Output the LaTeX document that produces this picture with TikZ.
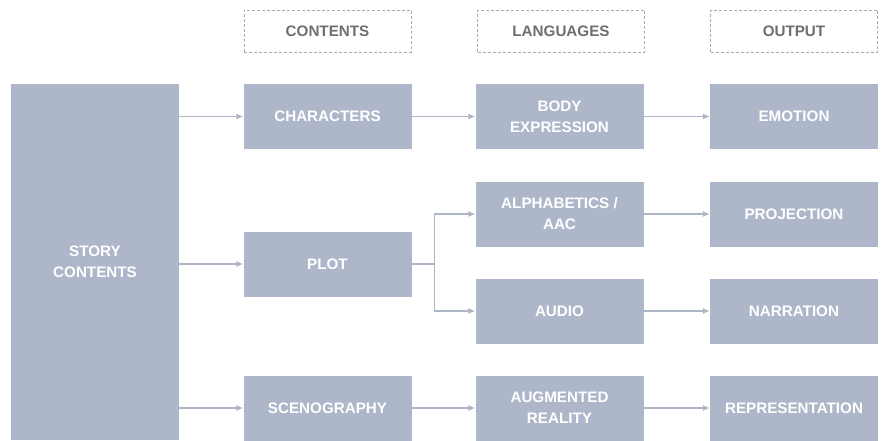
\documentclass[tikz,border=0pt]{standalone}
\usepackage{fontspec}
\setmainfont{Liberation Sans}
\usetikzlibrary{arrows.meta}
\definecolor{boxfill}{HTML}{ADB7C9}
\definecolor{linecol}{HTML}{AEB6C6}
\definecolor{headtext}{HTML}{6E6E6E}
\definecolor{headline}{HTML}{ABABAB}
\begin{document}
\begin{tikzpicture}[
        x=1pt,y=-1pt,
        box/.style={fill=boxfill,text=white,font=\fontsize{15.2}{21}\selectfont\bfseries,
            align=center,minimum width=168pt,minimum height=65pt,inner sep=0pt},
        head/.style={draw=headline,dashed,dash pattern=on 3pt off 2pt,line width=0.9pt,text=headtext,
            font=\fontsize{15.2}{21}\selectfont\bfseries,minimum width=167pt,minimum height=42pt,inner sep=0pt},
        conn/.style={draw=linecol,line width=1.1pt,-{Latex[length=7pt,width=6pt]}},
        line join=round
    ]
    \useasboundingbox (0,0) rectangle (885,441);
    \node[head] (hcont) at (327.5,31) {CONTENTS};
    \node[head] (hlang) at (561,31) {LANGUAGES};
    \node[head] (hout) at (794,31) {OUTPUT};

    \node[box,minimum height=356pt] (story) at (95,262) {STORY\\CONTENTS};

    \node[box] (chars) at (327.5,116.5) {CHARACTERS};
    \node[box] (plot) at (327.5,264) {PLOT};
    \node[box] (sceno) at (327.5,408) {SCENOGRAPHY};

    \node[box] (body) at (559.5,116.5) {BODY\\EXPRESSION};
    \node[box] (alpha) at (559.5,214) {ALPHABETICS /\\AAC};
    \node[box] (audio) at (559.5,311) {AUDIO};
    \node[box] (augm) at (559.5,408) {AUGMENTED\\REALITY};

    \node[box] (emot) at (794,116.5) {EMOTION};
    \node[box] (proj) at (794,214) {PROJECTION};
    \node[box] (narr) at (794,311) {NARRATION};
    \node[box] (repr) at (794,408) {REPRESENTATION};

    \draw[conn] (story.east |- chars) -- (chars);
    \draw[conn] (story.east |- plot) -- (plot);
    \draw[conn] (story.east |- sceno) -- (sceno);
    \draw[conn] (chars) -- (body);
    \draw[conn] (plot.east) -- ++(23,0) |- (alpha.west);
    \draw[conn] (plot.east) -- ++(23,0) |- (audio.west);
    \draw[conn] (sceno) -- (augm);
    \draw[conn] (body) -- (emot);
    \draw[conn] (alpha) -- (proj);
    \draw[conn] (audio) -- (narr);
    \draw[conn] (augm) -- (repr);
\end{tikzpicture}
\end{document}
